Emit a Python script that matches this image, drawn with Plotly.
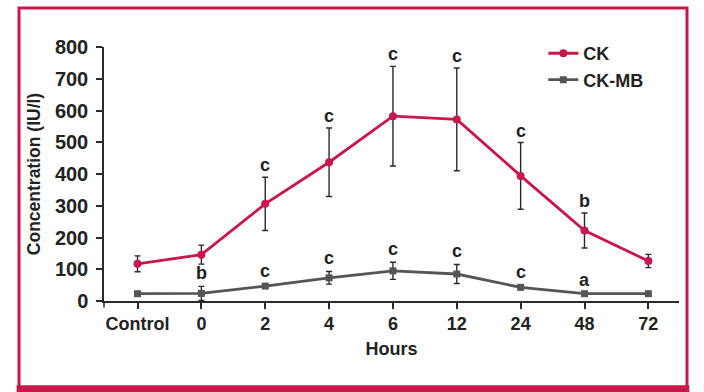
import plotly.graph_objects as go

categories = ["Control", "0", "2", "4", "6", "12", "24", "48", "72"]
ck_values = [117, 146, 306, 437, 582, 572, 394, 222, 126]
ck_errors = [25, 30, 84, 108, 157, 162, 105, 55, 21]
ckmb_values = [23, 24, 47, 73, 95, 85, 43, 23, 23]
ckmb_errors = [0, 22, 5, 20, 27, 30, 6, 3, 0]
ck_letters = ["", "", "c", "c", "c", "c", "c", "b", ""]
ckmb_letters = ["", "b", "c", "c", "c", "c", "c", "a", ""]
y_ticks = [0, 100, 200, 300, 400, 500, 600, 700, 800]

RED = "#c8174b"
GRAY = "#555555"
DARK = "#2a2a2a"
FONT = "Liberation Sans, Arial, sans-serif"
TXT = "#222222"


def bold(size):
    return dict(family=FONT, size=size, color=TXT, weight="bold")


fig = go.Figure()
fig.add_trace(go.Scatter(
    x=categories, y=ck_values, name="CK", mode="lines+markers",
    line=dict(color=RED, width=2.8),
    marker=dict(symbol="circle", size=8, color=RED),
    error_y=dict(type="data", array=ck_errors, visible=True, color=DARK, thickness=1.4, width=3),
))
fig.add_trace(go.Scatter(
    x=categories, y=ckmb_values, name="CK-MB", mode="lines+markers",
    line=dict(color=GRAY, width=2.8),
    marker=dict(symbol="square", size=7, color=GRAY),
    error_y=dict(type="data", array=ckmb_errors, visible=True, color=DARK, thickness=1.4, width=3),
))

for i, (v, e, t) in enumerate(zip(ck_values, ck_errors, ck_letters)):
    if t:
        fig.add_annotation(x=i, y=v + e, text=t, showarrow=False,
                           yshift=12, font=bold(18))
for i, (v, e, t) in enumerate(zip(ckmb_values, ckmb_errors, ckmb_letters)):
    if t:
        fig.add_annotation(x=i, y=v + e, text=t, showarrow=False,
                           yshift=13, font=bold(18))

# decorative frame
fig.add_shape(type="rect", xref="paper", yref="paper",
              x0=-0.1478, x1=1.0139, y0=-0.345, y1=1.1535,
              line=dict(color=RED, width=3), layer="below")
fig.add_shape(type="rect", xref="paper", yref="paper",
              x0=-0.152, x1=1.018, y0=-0.332, y1=-0.36,
              line=dict(width=0), fillcolor=RED, layer="below")
# small extension of y-axis below zero
fig.add_shape(type="line", xref="paper", yref="paper", x0=0, x1=0, y0=0, y1=-0.026,
              line=dict(color=DARK, width=1.5))

fig.update_layout(
    width=704, height=392,
    margin=dict(l=104, r=25, t=47, b=91),
    paper_bgcolor="white", plot_bgcolor="white",
    font=dict(family=FONT, size=18, color=TXT),
    showlegend=True,
    legend=dict(x=0.764, y=1.047, xanchor="left", yanchor="top",
                font=bold(18), bgcolor="rgba(0,0,0,0)"),
)
fig.update_xaxes(
    type="category", range=[-0.525, 8.48],
    showline=True, linecolor=DARK, linewidth=1.5,
    ticks="outside", ticklen=6, tickwidth=1.5, tickcolor=DARK,
    tickfont=bold(18),
    showgrid=False, zeroline=False,
    title=dict(text="Hours", font=bold(18), standoff=9),
)
fig.update_yaxes(
    range=[0, 800], tickvals=y_ticks,
    showline=True, linecolor=DARK, linewidth=1.5,
    ticks="outside", ticklen=6, tickwidth=1.5, tickcolor=DARK,
    tickfont=bold(20), ticklabelstandoff=4,
    showgrid=False, zeroline=False,
    title=dict(text="Concentration (IU/l)", font=bold(17.5), standoff=10),
)

fig.write_html("out.html", config={"displayModeBar": False},
               post_script="document.body.style.margin='0';")
